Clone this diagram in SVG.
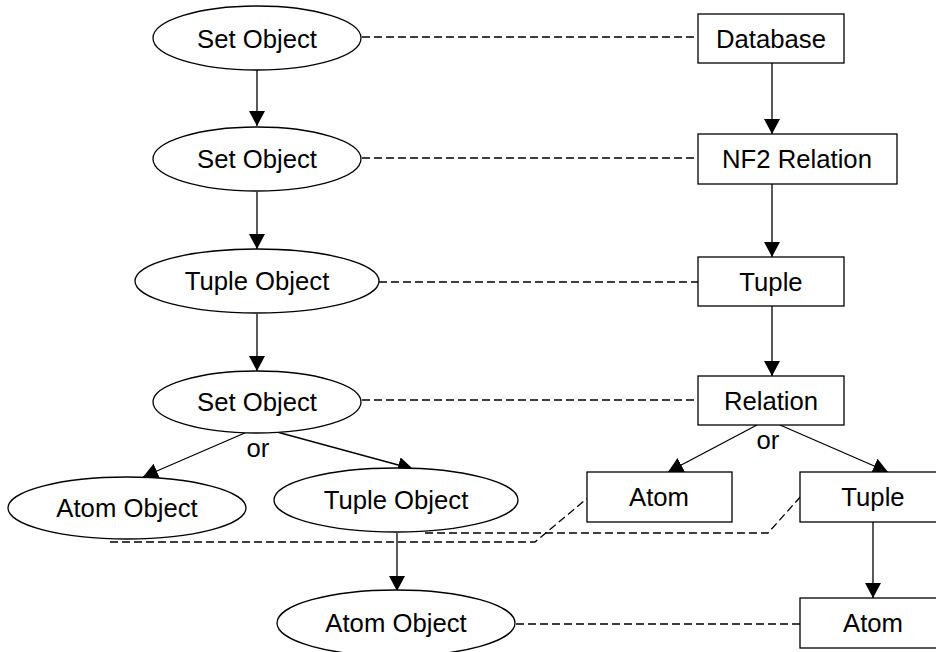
<svg xmlns="http://www.w3.org/2000/svg" width="936" height="652" viewBox="0 0 936 652">
  <style>
    .shape { fill: #ffffff; stroke: #000000; stroke-width: 1.3; }
    .label { font-family: "Liberation Sans", Arial, sans-serif; font-size: 25.7px; fill: #000000; text-anchor: middle; }
    .arrow { fill: none; stroke: #000000; stroke-width: 1.3; marker-end: url(#head); }
    .dash { fill: none; stroke: #000000; stroke-width: 1.3; stroke-dasharray: 8 4; }
  </style>
  <defs>
    <marker id="head" viewBox="0 0 15 16" refX="15" refY="8" markerWidth="15" markerHeight="16" markerUnits="userSpaceOnUse" orient="auto">
      <path d="M0,0 L15,8 L0,16 z" fill="#000000"/>
    </marker>
  </defs>
  <rect width="936" height="652" fill="#ffffff"/>

  <!-- connectors -->
  <g id="connectors">
    <!-- object hierarchy -->
    <line class="arrow" x1="257" y1="70" x2="257" y2="126"/>
    <line class="arrow" x1="257" y1="192" x2="257" y2="249"/>
    <line class="arrow" x1="257" y1="314" x2="257" y2="371"/>
    <line class="arrow" x1="247" y1="432" x2="143" y2="477"/>
    <line class="arrow" x1="277" y1="432" x2="413" y2="469"/>
    <line class="arrow" x1="397" y1="533" x2="397" y2="591"/>
    <!-- data model hierarchy -->
    <line class="arrow" x1="772" y1="63" x2="772" y2="134"/>
    <line class="arrow" x1="772" y1="184" x2="772" y2="257"/>
    <line class="arrow" x1="772" y1="306" x2="772" y2="376"/>
    <line class="arrow" x1="757" y1="425" x2="668" y2="472"/>
    <line class="arrow" x1="780" y1="425" x2="888" y2="472"/>
    <line class="arrow" x1="873" y1="522" x2="873" y2="598"/>
    <!-- correspondences -->
    <line class="dash" x1="362" y1="37" x2="698" y2="37"/>
    <line class="dash" x1="362" y1="158" x2="698" y2="158"/>
    <line class="dash" x1="379" y1="282" x2="698" y2="282"/>
    <line class="dash" x1="362" y1="400" x2="698" y2="400"/>
    <polyline class="dash" points="110,542 535,542 590,496"/>
    <polyline class="dash" points="425,533 768,533 802,495"/>
    <line class="dash" x1="516" y1="624" x2="800" y2="624"/>
    <text class="label" x="258" y="457">or</text>
    <text class="label" x="768" y="449">or</text>
  </g>

  <!-- object nodes -->
  <g id="set-object-1">
    <ellipse class="shape" cx="257" cy="38" rx="104" ry="32"/>
    <text class="label" x="257" y="48">Set Object</text>
  </g>
  <g id="set-object-2">
    <ellipse class="shape" cx="257" cy="159" rx="104" ry="32"/>
    <text class="label" x="257" y="168">Set Object</text>
  </g>
  <g id="tuple-object-1">
    <ellipse class="shape" cx="257" cy="281" rx="122" ry="32"/>
    <text class="label" x="257" y="290">Tuple Object</text>
  </g>
  <g id="set-object-3">
    <ellipse class="shape" cx="257" cy="402" rx="104" ry="31"/>
    <text class="label" x="257" y="411">Set Object</text>
  </g>
  <g id="atom-object-1">
    <ellipse class="shape" cx="127" cy="508" rx="119" ry="31"/>
    <text class="label" x="127" y="517">Atom Object</text>
  </g>
  <g id="tuple-object-2">
    <ellipse class="shape" cx="396" cy="500" rx="122" ry="32"/>
    <text class="label" x="396" y="509">Tuple Object</text>
  </g>
  <g id="atom-object-2">
    <ellipse class="shape" cx="396" cy="623" rx="119" ry="33"/>
    <text class="label" x="396" y="632">Atom Object</text>
  </g>

  <!-- data model nodes -->
  <g id="database">
    <rect class="shape" x="698" y="14" width="146" height="49"/>
    <text class="label" x="771" y="48">Database</text>
  </g>
  <g id="nf2-relation">
    <rect class="shape" x="698" y="134" width="199" height="50"/>
    <text class="label" x="797" y="168">NF2 Relation</text>
  </g>
  <g id="tuple-1">
    <rect class="shape" x="698" y="257" width="146" height="49"/>
    <text class="label" x="771" y="291">Tuple</text>
  </g>
  <g id="relation">
    <rect class="shape" x="698" y="376" width="146" height="49"/>
    <text class="label" x="771" y="410">Relation</text>
  </g>
  <g id="atom-1">
    <rect class="shape" x="587" y="472" width="145" height="50"/>
    <text class="label" x="659" y="506">Atom</text>
  </g>
  <g id="tuple-2">
    <rect class="shape" x="800" y="472" width="146" height="50"/>
    <text class="label" x="873" y="506">Tuple</text>
  </g>
  <g id="atom-2">
    <rect class="shape" x="800" y="598" width="146" height="50"/>
    <text class="label" x="873" y="632">Atom</text>
  </g>
</svg>
